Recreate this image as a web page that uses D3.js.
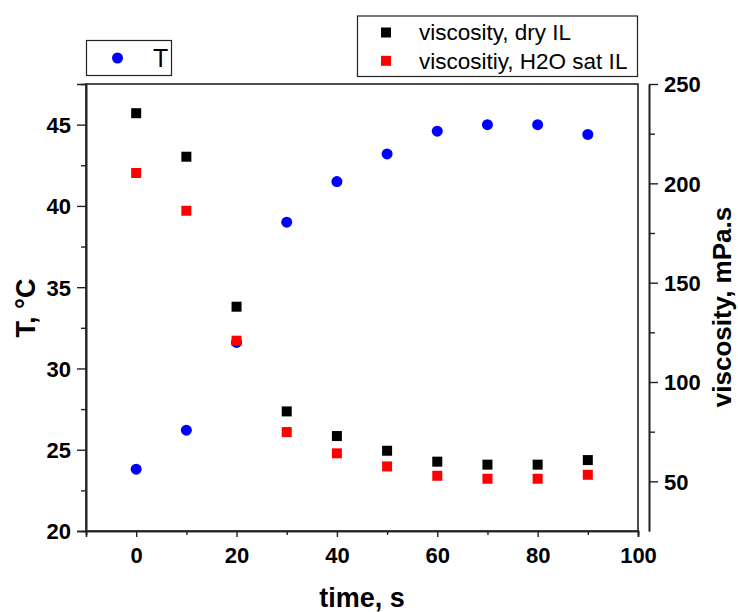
<!DOCTYPE html>
<html>
<head>
<meta charset="utf-8">
<script src="https://cdn.jsdelivr.net/npm/d3@7"></script>
<style>
  body { margin: 0; background: #fff; }
  svg { display: block; font-family: "Liberation Sans", Arial, sans-serif; }
</style>
</head>
<body>
<svg width="738" height="612"></svg>
<script>
// data
const time = [0, 10, 20, 30, 40, 50, 60, 70, 80, 90]
const temp = [23.8, 26.2, 31.6, 39.0, 41.5, 43.2, 44.6, 45.0, 45.0, 44.4]
const viscDry = [235.3, 213.4, 137.9, 85.2, 72.8, 65.4, 59.9, 58.4, 58.4, 60.7]
const viscWet = [205.2, 186.2, 120.8, 74.8, 64.1, 57.5, 52.8, 51.3, 51.3, 53.3]
const xTicks = [0, 20, 40, 60, 80, 100]
const tTicks = [20, 25, 30, 35, 40, 45]
const vTicks = [50, 100, 150, 200, 250]

const svg = d3.select('svg')
const margin = {top: 84, right: 100, bottom: 81, left: 86}
const width = 738 - margin.left - margin.right   // 552
const height = 612 - margin.top - margin.bottom  // 447
const g = svg.append('g').attr('transform', 'translate(' + margin.left + ',' + margin.top + ')')

const x = d3.scaleLinear().domain([-10, 100]).range([0, width])
const yT = d3.scaleLinear().domain([20, 47.5]).range([height, 0])
const yV = d3.scaleLinear().domain([25, 250]).range([height, 0])

// frame
g.append('rect')
  .attr('width', width).attr('height', height)
  .attr('fill', 'none').attr('stroke', '#222').attr('stroke-width', 1.6)

function styleAxis (sel) {
  sel.attr('font-family', '"Liberation Sans", Arial, sans-serif')
    .attr('font-size', 22)
    .attr('font-weight', 'bold')
  sel.select('.domain').attr('stroke', '#222').attr('stroke-width', 1.6)
  sel.selectAll('.tick line').attr('stroke', '#222').attr('stroke-width', 1.4)
  sel.selectAll('.tick text').attr('fill', '#000')
}

// minor ticks first
g.append('g')
  .attr('transform', 'translate(0,' + height + ')')
  .call(d3.axisBottom(x).tickValues(d3.range(-10, 101, 20)).tickSize(4).tickFormat(''))
  .call(styleAxis)
g.append('g')
  .call(d3.axisLeft(yT).tickValues(d3.range(22.5, 47.5, 5)).tickSize(5).tickFormat(''))
  .call(styleAxis)

const xAxis = g.append('g')
  .attr('transform', 'translate(0,' + height + ')')
  .call(d3.axisBottom(x).tickValues(xTicks).tickSize(6).tickPadding(10))
  .call(styleAxis)
xAxis.selectAll('.tick text').attr('dy', '0.71em')

g.append('g')
  .call(d3.axisLeft(yT).tickValues(tTicks).tickSize(9).tickPadding(6))
  .call(styleAxis)
  .selectAll('.tick text').attr('dy', '0.36em')

// separate right axis
const rx = width + 11
g.append('g')
  .attr('transform', 'translate(' + rx + ',0)')
  .call(d3.axisRight(yV).tickValues(d3.range(75, 250, 50)).tickSize(6).tickSizeOuter(0).tickFormat(''))
  .call(styleAxis)
g.append('g')
  .attr('transform', 'translate(' + rx + ',0)')
  .call(d3.axisRight(yV).tickValues(vTicks).tickSize(9).tickSizeOuter(0).tickPadding(6))
  .call(styleAxis)
  .selectAll('.tick text').attr('dy', '0.36em')

// axis titles
svg.append('text')
  .attr('x', margin.left + x(45)).attr('y', 607)
  .attr('text-anchor', 'middle')
  .attr('font-weight', 'bold').attr('font-size', 27)
  .text('time, s')

svg.append('text')
  .attr('transform', 'translate(35,308) rotate(-90)')
  .attr('text-anchor', 'middle')
  .attr('font-weight', 'bold').attr('font-size', 27)
  .text('T, °C')

svg.append('text')
  .attr('transform', 'translate(731,307) rotate(-90)')
  .attr('text-anchor', 'middle')
  .attr('font-weight', 'bold').attr('font-size', 26)
  .text('viscosity, mPa.s')

// markers
const sq = 10
g.append('g').selectAll('rect')
  .data(time.map((t, i) => [t, viscDry[i]]))
  .enter().append('rect')
  .attr('x', d => x(d[0]) - sq / 2)
  .attr('y', d => yV(d[1]) - sq / 2)
  .attr('width', sq).attr('height', sq)
  .attr('fill', '#000')

g.append('g').selectAll('circle')
  .data(time.map((t, i) => [t, temp[i]]))
  .enter().append('circle')
  .attr('cx', d => x(d[0]))
  .attr('cy', d => yT(d[1]))
  .attr('r', 5.5)
  .attr('fill', '#0000ff')

g.append('g').selectAll('rect')
  .data(time.map((t, i) => [t, viscWet[i]]))
  .enter().append('rect')
  .attr('x', d => x(d[0]) - sq / 2)
  .attr('y', d => yV(d[1]) - sq / 2)
  .attr('width', sq).attr('height', sq)
  .attr('fill', '#ff0000')

// legend for T
const leg1 = svg.append('g')
leg1.append('rect')
  .attr('x', 86.5).attr('y', 40.5).attr('width', 85).attr('height', 35)
  .attr('fill', '#fff').attr('stroke', '#222').attr('stroke-width', 1.2)
leg1.append('circle').attr('cx', 117.5).attr('cy', 58).attr('r', 5.5).attr('fill', '#0000ff')
leg1.append('text')
  .attr('x', 153).attr('y', 66.5)
  .attr('font-size', 25)
  .text('T')

// legend for viscosity
const legItems = [
  {label: 'viscosity, dry IL', color: '#000'},
  {label: 'viscositiy, H2O sat IL', color: '#ff0000'}
]
const leg2 = svg.append('g')
leg2.append('rect')
  .attr('x', 357.5).attr('y', 16).attr('width', 280).attr('height', 60.5)
  .attr('fill', '#fff').attr('stroke', '#222').attr('stroke-width', 1.2)
const row = leg2.selectAll('g.item')
  .data(legItems)
  .enter().append('g')
  .attr('class', 'item')
  .attr('transform', (d, i) => 'translate(0,' + (32.5 + i * 28.3) + ')')
row.append('rect')
  .attr('x', 381).attr('y', -5).attr('width', 10).attr('height', 10)
  .attr('fill', d => d.color)
row.append('text')
  .attr('x', 419).attr('y', 0).attr('dy', '0.35em')
  .attr('font-size', 22.5)
  .text(d => d.label)
</script>
</body>
</html>
